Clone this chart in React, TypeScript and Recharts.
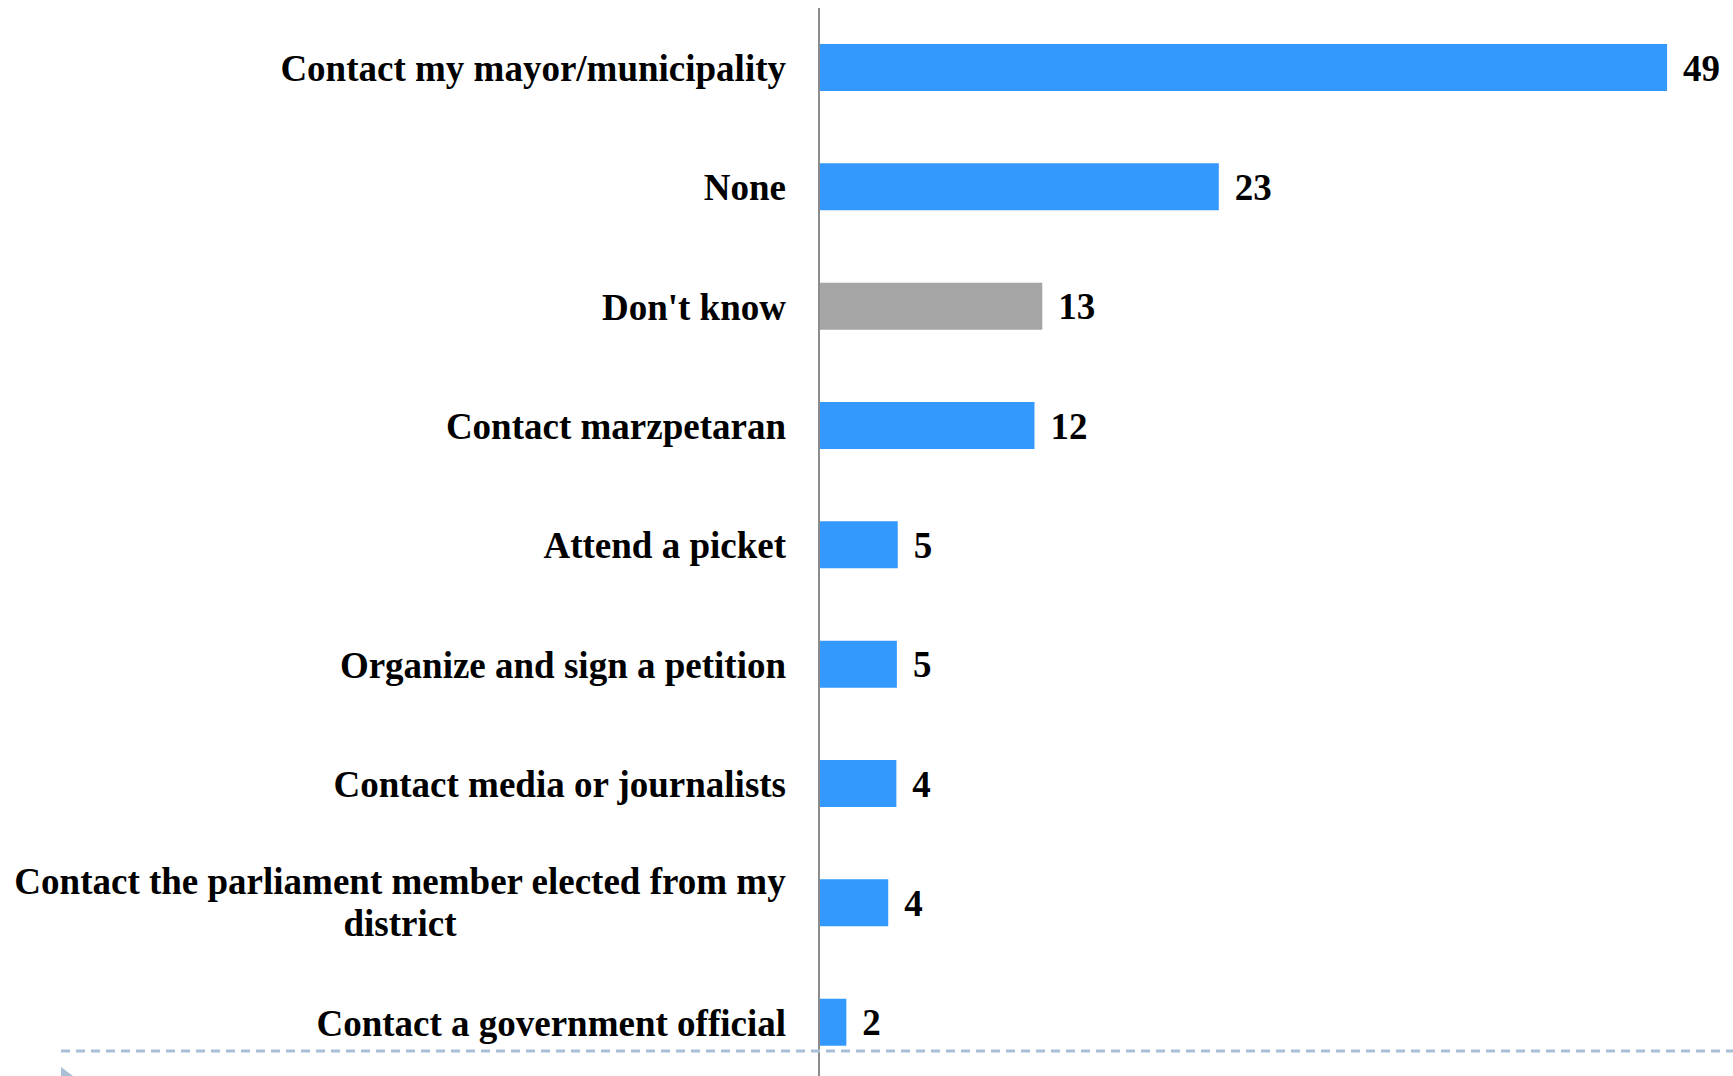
import React from "react";
import { Bar, BarChart, Cell, LabelList, XAxis, YAxis } from "recharts";

const categories = [
  "Contact my mayor/municipality",
  "None",
  "Don't know",
  "Contact marzpetaran",
  "Attend a picket",
  "Organize and sign a petition",
  "Contact media or journalists",
  "Contact the parliament member elected from my district",
  "Contact a government official",
];
const values = [49, 23.1, 12.9, 12.45, 4.55, 4.5, 4.47, 4.0, 1.58];
const valueLabels = ["49", "23", "13", "12", "5", "5", "4", "4", "2"];
const grey = ["Don't know"];

const BLUE = "#3399ff";
const GREY = "#a5a5a5";
const FONT = '"Liberation Serif", "Times New Roman", serif';
const FS = 37;

const data = categories.map((c, i) => ({ name: c, value: values[i], label: valueLabels[i] }));

let ctx: CanvasRenderingContext2D | null = null;
function textWidth(s: string) {
  if (!ctx) ctx = document.createElement("canvas").getContext("2d");
  if (!ctx) return s.length * 17;
  ctx.font = `bold ${FS}px ${FONT}`;
  return ctx.measureText(s).width;
}

function wrap(s: string, max: number) {
  const words = s.split(" ");
  const lines: string[] = [];
  let cur = "";
  for (const w of words) {
    const t = cur ? cur + " " + w : w;
    if (cur && textWidth(t) > max) {
      lines.push(cur);
      cur = w;
    } else cur = t;
  }
  if (cur) lines.push(cur);
  return lines;
}

function CategoryTick(props: any) {
  const { x, y, payload } = props;
  const right = x - 25;
  const lines = wrap(payload.value, 790);
  if (lines.length === 1) {
    return (
      <text x={right} y={y} dy="0.36em" textAnchor="end" fontFamily={FONT} fontWeight="bold" fontSize={FS} fill="#000">
        {lines[0]}
      </text>
    );
  }
  const w = Math.max(...lines.map(textWidth));
  const cx = right - w / 2;
  const lh = 42;
  return (
    <text x={cx} y={y} textAnchor="middle" fontFamily={FONT} fontWeight="bold" fontSize={FS} fill="#000">
      {lines.map((l, i) => (
        <tspan key={i} x={cx} y={y + (i - (lines.length - 1) / 2) * lh} dy="0.33em">
          {l}
        </tspan>
      ))}
    </text>
  );
}

export default function App() {
  return (
    <div style={{ position: "absolute", left: 0, top: 0, width: 1733, height: 1076, overflow: "hidden", background: "#fff" }}>
      <BarChart
        width={1733}
        height={1082}
        data={data}
        layout="vertical"
        margin={{ top: 8, right: 14, bottom: 0, left: 0 }}
        barSize={47}
      >
        <XAxis type="number" domain={[0, 52]} hide />
        <YAxis
          type="category"
          dataKey="name"
          width={819}
          axisLine={{ stroke: "#8c8c8c", strokeWidth: 2 }}
          tickLine={false}
          tick={<CategoryTick />}
          interval={0}
        />
        <Bar dataKey="value" isAnimationActive={false}>
          {data.map((d) => (
            <Cell key={d.name} fill={grey.includes(d.name) ? GREY : BLUE} />
          ))}
          <LabelList
            dataKey="label"
            position="right"
            offset={16}
            fontFamily={FONT}
            fontWeight="bold"
            fontSize={FS}
            fill="#000"
          />
        </Bar>
      </BarChart>
      <svg width={1733} height={1076} style={{ position: "absolute", left: 0, top: 0, pointerEvents: "none" }}>
        <line x1={61} y1={1051} x2={1733} y2={1051} stroke="#a9bfd6" strokeWidth={3} strokeDasharray="9 6" />
        <polygon points="61,1067 73,1076 61,1076" fill="#a9bfd6" />
      </svg>
    </div>
  );
}
